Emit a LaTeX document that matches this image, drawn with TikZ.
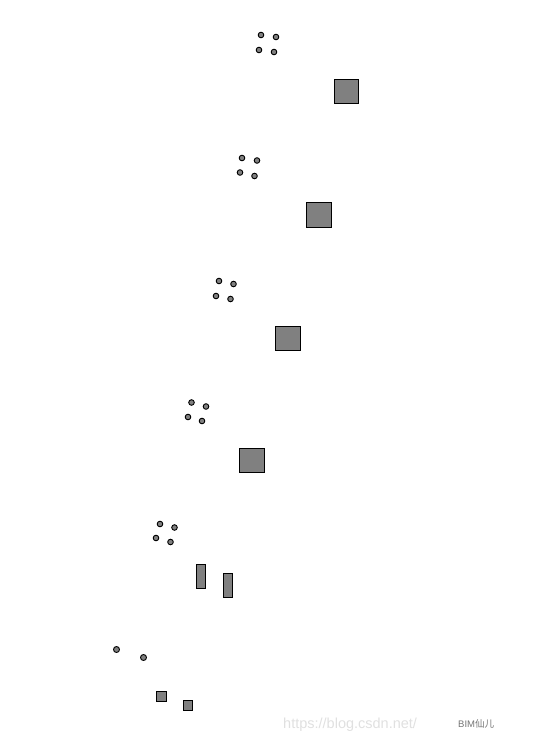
\documentclass[tikz,border=0pt]{standalone}
\usepackage{fontspec}
\setmainfont{Liberation Sans}
\newfontfamily\cjkfont{Noto Sans CJK SC}
\usetikzlibrary{positioning}

\begin{document}
\begin{tikzpicture}[x=1pt,y=-1pt,
		pile/.style={draw=black,fill=black!50,line width=0.9pt},
		column/.style={draw=black,fill=black!50,line width=1pt}]
		
		%Frame of the picture
		\useasboundingbox (0,0) rectangle (557,743);
		
		%First step: four piles and one column
		\filldraw[pile] (261,35) circle (2.8);
		\filldraw[pile] (276,37) circle (2.8);
		\filldraw[pile] (259,50) circle (2.8);
		\filldraw[pile] (274,52) circle (2.8);
		\filldraw[column] (334.5,79.5) rectangle (358.5,103.5);
		
		%Second step
		\filldraw[pile] (242,158) circle (2.8);
		\filldraw[pile] (257,160.5) circle (2.8);
		\filldraw[pile] (240,172.5) circle (2.8);
		\filldraw[pile] (254.5,176) circle (2.8);
		\filldraw[column] (306.5,203) rectangle (331,227);
		
		%Third step
		\filldraw[pile] (219,281) circle (2.8);
		\filldraw[pile] (233.5,284) circle (2.8);
		\filldraw[pile] (216,296) circle (2.8);
		\filldraw[pile] (230.5,299) circle (2.8);
		\filldraw[column] (275.5,326) rectangle (300,350);
		
		%Fourth step
		\filldraw[pile] (191.5,402.5) circle (2.8);
		\filldraw[pile] (206,406.5) circle (2.8);
		\filldraw[pile] (188,417) circle (2.8);
		\filldraw[pile] (202,421) circle (2.8);
		\filldraw[column] (239.5,448.5) rectangle (264.5,472);
		
		%Fifth step: two walls
		\filldraw[pile] (160,524) circle (2.8);
		\filldraw[pile] (174.5,527.5) circle (2.8);
		\filldraw[pile] (156,538) circle (2.8);
		\filldraw[pile] (170.5,542) circle (2.8);
		\filldraw[column] (196.5,564) rectangle (205.5,588.5);
		\filldraw[column] (223.5,573) rectangle (232.5,597.5);
		
		%Sixth step: two piles and two small columns
		\filldraw[pile] (116.5,649.5) circle (3);
		\filldraw[pile] (143.5,657.5) circle (3);
		\filldraw[column] (156.5,691.5) rectangle (166,701.5);
		\filldraw[column] (183.5,700.5) rectangle (192.5,710.5);
		
		%Watermark
		\node (mark) at (283,725) [anchor=west,text=black!12,font=\fontsize{14.5}{14.5}\selectfont,inner sep=0pt]{https://blog.csdn.net/};
		\node (author) at (458,724) [anchor=west,text=black!55,font=\fontsize{9.5}{9.5}\selectfont,inner sep=0pt]{BIM{\cjkfont 仙儿}};
		
\end{tikzpicture}
\end{document}
